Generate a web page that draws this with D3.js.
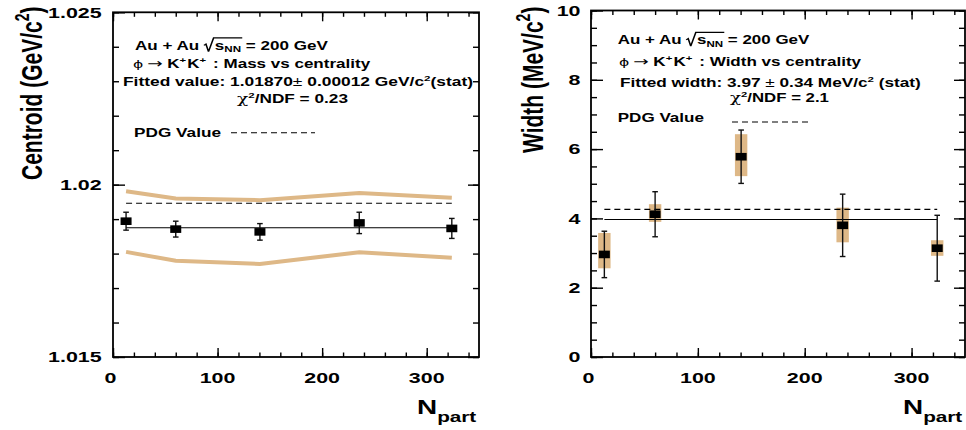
<!DOCTYPE html>
<html><head><meta charset="utf-8">
<script src="https://cdn.jsdelivr.net/npm/d3@7"></script>
<style>
body{margin:0;background:#fff}
svg{display:block}
text{font-family:"Liberation Sans",Arial,Helvetica,sans-serif;font-weight:bold;fill:#000}
</style>
</head><body>
<svg id="c" width="966" height="430"></svg>
<script>
// ---------------- data ----------------
const nPart = [12.5, 60, 140.5, 235.5, 324];
const centroid = [1.01894, 1.01871, 1.01863, 1.01889, 1.01873];
const centroidErr = [0.00026, 0.00023, 0.00024, 0.00031, 0.00029];
const centroidSysUp = [1.01981, 1.01960, 1.01955, 1.01976, 1.01962];
const centroidSysLo = [1.01805, 1.01779, 1.01770, 1.01804, 1.01788];
const centroidFit = 1.01875;
const pdgMass = 1.019461;
const widthVal = [2.96, 4.12, 5.78, 3.80, 3.14];
const widthErr = [0.67, 0.65, 0.77, 0.90, 0.95];
const widthSysHi = [0.62, 0.29, 0.65, 0.51, 0.23];
const widthSysLo = [0.40, 0.22, 0.56, 0.49, 0.22];
const widthFit = 3.97;
const pdgWidth = 4.26;
const xMajorTicks = [0, 100, 200, 300];
const xMinorTicks = d3.range(0, 341, 20);
const centroidMajorTicks = [1.015, 1.02, 1.025];
const centroidMinorTicks = d3.range(0, 11).map(i => +(1.015 + i * 0.001).toFixed(3));
const widthMajorTicks = [0, 2, 4, 6, 8, 10];
const widthMinorTicks = d3.range(0, 21).map(i => i * 0.5);

// ---------------- setup ----------------
const SX = 1.43;
const SYS = "#deb887";
const svg = d3.select("#c");

function stext(parent, x, y, size, parts, opt = {}) {
  const g = parent.append("g").attr("transform",
    `translate(${x},${y}) scale(${SX},1)` + (opt.rotate ? ` rotate(${opt.rotate})` : ""));
  const t = g.append("text").attr("font-size", size).attr("text-anchor", opt.anchor || "start");
  parts.forEach(p => {
    if (typeof p === "string") p = {t: p};
    const ts = t.append("tspan").text(p.t);
    if (p.size) ts.attr("font-size", p.size);
    if (p.dy) ts.attr("dy", p.dy);
    if (p.dx) ts.attr("dx", p.dx);
    if (p.normal) ts.attr("font-weight", "normal");
    if (p.family) ts.style("font-family", p.family);
  });
  return {g, t, x, y};
}
// stretch an annotation so that it spans exactly [x, xEnd]
function fit(o, xEnd) {
  const b = o.g.node().getBBox();
  const s = (xEnd - o.x) / (b.x + b.width);
  o.g.attr("transform", `translate(${o.x},${o.y}) scale(${s},1)`);
  return o;
}

function frameAndAxes(x, y, yMajor, yMinor, yFmt, ylabRight) {
  const [x0, x1] = x.range();
  const [y0, y1] = y.range();
  const g = svg.append("g");
  const ax = (axis, tx, ty) => {
    const a = g.append("g").attr("transform", `translate(${tx},${ty})`).call(axis);
    a.select(".domain").remove();
    a.selectAll("line").attr("stroke", "#000").attr("stroke-width", 1.4);
    a.selectAll("text").remove();
  };
  ax(d3.axisBottom(x).tickValues(xMinorTicks).tickSize(-4.5).tickSizeOuter(0), 0, y0);
  ax(d3.axisBottom(x).tickValues(xMajorTicks).tickSize(-9).tickSizeOuter(0), 0, y0);
  ax(d3.axisTop(x).tickValues(xMinorTicks).tickSize(-4.5).tickSizeOuter(0), 0, y1);
  ax(d3.axisTop(x).tickValues(xMajorTicks).tickSize(-9).tickSizeOuter(0), 0, y1);
  ax(d3.axisLeft(y).tickValues(yMinor).tickSize(-6).tickSizeOuter(0), x0, 0);
  ax(d3.axisLeft(y).tickValues(yMajor).tickSize(-12).tickSizeOuter(0), x0, 0);
  ax(d3.axisRight(y).tickValues(yMinor).tickSize(-6).tickSizeOuter(0), x1, 0);
  ax(d3.axisRight(y).tickValues(yMajor).tickSize(-11).tickSizeOuter(0), x1, 0);
  g.append("rect").attr("x", x0).attr("y", y1).attr("width", x1 - x0).attr("height", y0 - y1)
    .attr("fill", "none").attr("stroke", "#000").attr("stroke-width", 1.8);
  // tick labels
  xMajorTicks.forEach(v => stext(g, x(v) - (v === 0 ? 2.5 : 0), y0 + 25.7, 15, [String(v)], {anchor: "middle"}));
  yMajor.forEach(v => stext(g, ylabRight, y(v) + 5.3, 15, [yFmt(v)], {anchor: "end"}));
  // N_part
  stext(g, x1 - 62, y0 + 57, 19.5, ["N", {t: "part", size: 14.5, dy: 7.5}]);
  return g;
}

function radicalLine(parent, x, y, size, prefix, rest, xEnd) {
  // prefix + sqrt(s_NN) + rest
  const o = stext(parent, x, y, size, [
    prefix,
    {t: "s", dx: 11},
    {t: "NN", size: size * 0.68, dy: 2.5},
    {t: rest, dy: -2.5}
  ]);
  const node = o.t.node();
  const n = prefix.length;
  const xa = node.getEndPositionOfChar(n - 1).x + 3.3;
  const xb = node.getEndPositionOfChar(n + 2).x + 0.8;
  o.g.append("path")
    .attr("d", `M${xa},${-4.2} L${xa + 1.4},${-5.4} L${xa + 3.2},${2.2} L${xa + 6.8},${-11.6} L${xb},${-11.6}`)
    .attr("fill", "none").attr("stroke", "#000").attr("stroke-width", 1.1);
  fit(o, xEnd);
}

const PHI = {t: "ϕ", normal: true, family: "DejaVu Sans", size: 11};
const ARROW = {t: "→", normal: true, family: "DejaVu Sans", size: 13, dx: 3};
const CHI = {t: "χ", normal: true, family: "DejaVu Serif", size: 13};
const decay = rest => [PHI, ARROW, {t: "K", dx: 3}, {t: "+", size: 8, dy: -5}, {t: "K", dy: 5, dx: 0.8}, {t: "+", size: 8, dy: -5}, {t: rest, dy: 5, dx: 1.5}];

// ---------------- left panel ----------------
const xL = d3.scaleLinear().domain([0, 350]).range([113, 479]);
const yL = d3.scaleLinear().domain([1.015, 1.025]).range([357, 12.3]);
const gL = svg.append("g");
const idx = d3.range(nPart.length);

const bandLine = arr => d3.line().x(i => xL(nPart[i])).y(i => yL(arr[i]))(idx);
gL.append("path").attr("d", bandLine(centroidSysUp)).attr("fill", "none").attr("stroke", SYS).attr("stroke-width", 4);
gL.append("path").attr("d", bandLine(centroidSysLo)).attr("fill", "none").attr("stroke", SYS).attr("stroke-width", 4);
const nExt = d3.extent(nPart);
gL.append("line").attr("x1", xL(nExt[0])).attr("x2", xL(nExt[1])).attr("y1", yL(pdgMass)).attr("y2", yL(pdgMass))
  .attr("stroke", "#000").attr("stroke-width", 1.1).attr("stroke-dasharray", "6,4");
gL.append("line").attr("x1", xL(nExt[0])).attr("x2", xL(nExt[1])).attr("y1", yL(centroidFit)).attr("y2", yL(centroidFit))
  .attr("stroke", "#000").attr("stroke-width", 1.1);
idx.forEach(i => {
  const cx = xL(nPart[i]), yt = yL(centroid[i] + centroidErr[i]), yb = yL(centroid[i] - centroidErr[i]);
  gL.append("line").attr("x1", cx).attr("x2", cx).attr("y1", yt).attr("y2", yb).attr("stroke", "#111").attr("stroke-width", 1.4);
  [yt, yb].forEach(yy => gL.append("line").attr("x1", cx - 2.8).attr("x2", cx + 2.8).attr("y1", yy).attr("y2", yy).attr("stroke", "#111").attr("stroke-width", 1.4));
  gL.append("rect").attr("x", cx - 5.5).attr("y", yL(centroid[i]) - 3.8).attr("width", 11).attr("height", 7.6).attr("fill", "#000");
});
frameAndAxes(xL, yL, centroidMajorTicks, centroidMinorTicks, v => String(v), 101.7);
stext(gL, 42, 180, 21, ["Centroid (GeV/c", {t: "2", size: 14, dy: -9}, {t: ")", dy: 9}], {rotate: -90});

radicalLine(gL, 135, 49.5, 12, "Au + Au", " = 200 GeV", 328);
fit(stext(gL, 133, 68.3, 12, decay(" : Mass vs centrality")), 371);
fit(stext(gL, 123, 85.7, 12, ["Fitted value: 1.01870", {t: "±", normal: true}, " 0.00012 GeV/c", {t: "2", size: 8, dy: -5}, {t: "(stat)", dy: 5}]), 473);
fit(stext(gL, 237, 103.3, 12, [CHI, {t: "2", size: 8, dy: -5}, {t: "/NDF = 0.23", dy: 5}]), 348);
fit(stext(gL, 134, 137.3, 12, ["PDG Value"]), 221);
gL.append("line").attr("x1", 231).attr("x2", 315).attr("y1", 132.7).attr("y2", 132.7)
  .attr("stroke", "#000").attr("stroke-width", 1.1).attr("stroke-dasharray", "6,4");

// ---------------- right panel ----------------
const xR = d3.scaleLinear().domain([0, 350]).range([591, 965]);
const yR = d3.scaleLinear().domain([0, 10]).range([357, 10.5]);
const gR = svg.append("g");
idx.forEach(i => {
  const cx = xR(nPart[i]);
  gR.append("rect").attr("x", cx - 6.2).attr("width", 12.4)
    .attr("y", yR(widthVal[i] + widthSysHi[i])).attr("height", yR(widthVal[i] - widthSysLo[i]) - yR(widthVal[i] + widthSysHi[i]))
    .attr("fill", SYS);
});
gR.append("line").attr("x1", xR(nExt[0])).attr("x2", xR(nExt[1])).attr("y1", yR(pdgWidth)).attr("y2", yR(pdgWidth))
  .attr("stroke", "#000").attr("stroke-width", 1.1).attr("stroke-dasharray", "6,4");
gR.append("line").attr("x1", xR(nExt[0])).attr("x2", xR(nExt[1])).attr("y1", yR(widthFit)).attr("y2", yR(widthFit))
  .attr("stroke", "#000").attr("stroke-width", 1.1);
idx.forEach(i => {
  const cx = xR(nPart[i]), yt = yR(widthVal[i] + widthErr[i]), yb = yR(widthVal[i] - widthErr[i]);
  gR.append("line").attr("x1", cx).attr("x2", cx).attr("y1", yt).attr("y2", yb).attr("stroke", "#111").attr("stroke-width", 1.4);
  [yt, yb].forEach(yy => gR.append("line").attr("x1", cx - 2.8).attr("x2", cx + 2.8).attr("y1", yy).attr("y2", yy).attr("stroke", "#111").attr("stroke-width", 1.4));
  gR.append("rect").attr("x", cx - 5.5).attr("y", yR(widthVal[i]) - 3.8).attr("width", 11).attr("height", 7.6).attr("fill", "#000");
});
frameAndAxes(xR, yR, widthMajorTicks, widthMinorTicks, v => String(v), 580.5);
stext(gR, 543, 153, 21, ["Width (MeV/c", {t: "2", size: 14, dy: -9}, {t: ")", dy: 9}], {rotate: -90});

radicalLine(gR, 617.7, 44, 12, "Au + Au", " = 200 GeV", 809.5);
fit(stext(gR, 619, 65.7, 12, decay(" : Width vs centrality")), 862);
fit(stext(gR, 620, 86.7, 12, ["Fitted width: 3.97 ", {t: "±", normal: true}, " 0.34 MeV/c", {t: "2", size: 8, dy: -5}, {t: " (stat)", dy: 5}]), 921);
fit(stext(gR, 730, 102.3, 12, [CHI, {t: "2", size: 8, dy: -5}, {t: "/NDF = 2.1", dy: 5}]), 829);
fit(stext(gR, 617.7, 121.7, 12, ["PDG Value"]), 704);
gR.append("line").attr("x1", 732).attr("x2", 810).attr("y1", 122).attr("y2", 122)
  .attr("stroke", "#000").attr("stroke-width", 1.1).attr("stroke-dasharray", "6,4");
</script>
</body></html>
